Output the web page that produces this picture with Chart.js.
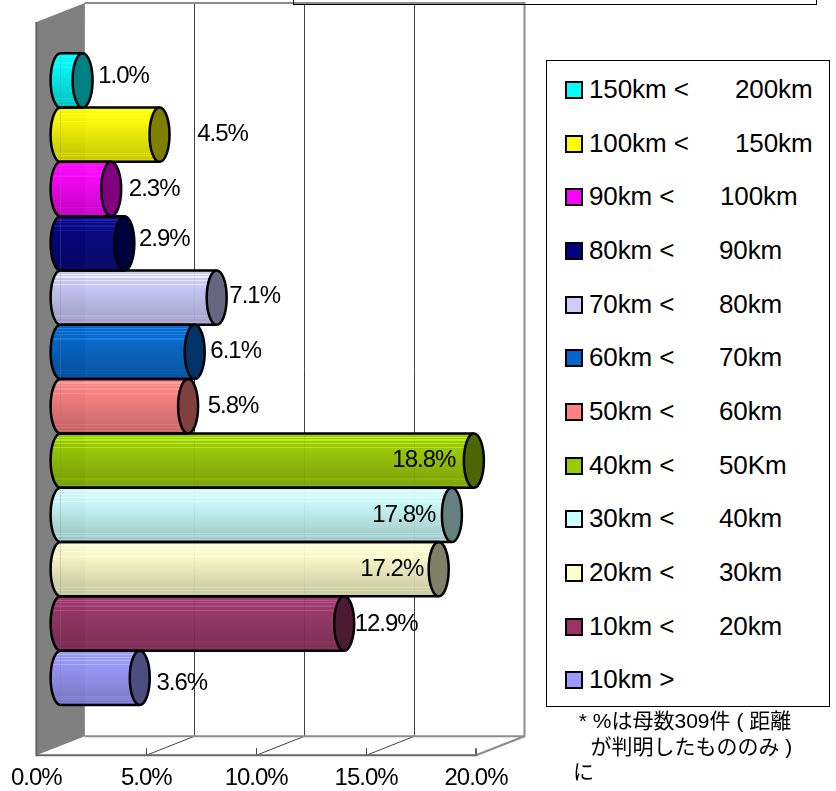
<!DOCTYPE html>
<html>
<head>
<meta charset="utf-8">
<script src="https://cdn.jsdelivr.net/npm/chart.js@4"></script>
<style>
  html, body { margin: 0; padding: 0; background: #fff; }
  #wrap { position: relative; width: 836px; height: 791px; overflow: hidden; font-family: "Liberation Sans", Arial, sans-serif; color: #000; }
  #myChart { position: absolute; left: 0; top: 0; }
  #titleBox { position: absolute; left: 293px; top: -20px; width: 522px; height: 23px; border: 1px solid #000; }
  #legendBox { position: absolute; left: 546px; top: 60px; width: 282px; height: 645px; border: 1px solid #000; background: #fff; }
  .row { position: absolute; left: 18px; height: 30px; font-size: 26px; letter-spacing: -0.1px; line-height: 30px; white-space: nowrap; }
  .swatch { position: absolute; left: 0; top: 7px; width: 14px; height: 14px; border: 2px solid #000; }
  .from { position: absolute; left: 24px; }
  .to { position: absolute; }
  #note { position: absolute; left: 573px; top: 708px; font-family: "Liberation Sans", "Noto Sans CJK JP", sans-serif; font-size: 21px; line-height: 25.5px; white-space: pre; }
</style>
</head>
<body>
<div id="wrap">
  <canvas id="myChart" width="836" height="791"></canvas>
  <div id="titleBox"></div>
  <div id="legendBox"></div>
  <div id="note"></div>
</div>
<script>
// bottom to top, as on the axis
const categories = ["10km >", "10km <", "20km <", "30km <", "40km <", "50km <", "60km <", "70km <", "80km <", "90km <", "100km <", "150km <"];
const upperLabels = ["", "20km", "30km", "40km", "50Km", "60km", "70km", "80km", "90km", "100km", "150km", "200km"];
const shares = [3.6, 12.9, 17.2, 17.8, 18.8, 5.8, 6.1, 7.1, 2.9, 2.3, 4.5, 1.0];
const barColors = ["#9999FF", "#993366", "#FFFFCC", "#CCFFFF", "#99CC00", "#FF8080", "#0066CC", "#CCCCFF", "#000080", "#FF00FF", "#FFFF00", "#00FFFF"];
const tickValues = [0, 5, 10, 15, 20];

// depth of the 3D box, front plane -> back plane
const depthX = 48.5;
const depthY = -19;
const capRadius = 10;

// data label distance from the bar end, Excel placed these by hand
const labelShift = [42, 42, -47, -48, -50, 45, 41, 38, 40, 43, 63, 41];
const labelLift = [8, 3, 2, 2, 2, 2, 1, 1, -2, 2, 2, -2];

// thin light lines in the bar shading (moire in the original)
const stripes = [0.07, 0.12, 0.18, 0.26, 0.84, 0.89, 0.95];

const shade = (hex, f, a = 1) => {
  const n = parseInt(hex.slice(1), 16);
  const c = (v) => Math.min(255, Math.round(v * f + (f > 1 ? 30 * (f - 1) * 10 : 0)));
  return `rgba(${c(n >> 16)},${c((n >> 8) & 255)},${c(n & 255)},${a})`;
};

const factorAt = (t) => (t < 0.3 ? 1 - t * 0.1 : 0.97 - (t - 0.3) * 0.3);

// light at the top, darker to the bottom, slightly see through like the original
const barGradient = (ctx, top, bottom, hex) => {
  const g = ctx.createLinearGradient(0, top, 0, bottom);
  g.addColorStop(0, shade(hex, 1, 0.96));
  stripes.forEach((s) => {
    const f = factorAt(s);
    g.addColorStop(s - 0.012, shade(hex, f, 0.96));
    g.addColorStop(s - 0.011, shade(hex, f * 1.08, 0.96));
    g.addColorStop(s + 0.011, shade(hex, f * 1.08, 0.96));
    g.addColorStop(s + 0.012, shade(hex, f, 0.96));
  });
  g.addColorStop(1, shade(hex, factorAt(1), 0.96));
  return g;
};

const box3d = {
  id: "box3d",
  beforeDraw(chart) {
    // the original text is tall and narrow
    chart.ctx.letterSpacing = "-1px";
  },
  beforeDatasetsDraw(chart) {
    const { ctx, chartArea: a, scales: { x } } = chart;
    ctx.save();
    // side wall
    ctx.fillStyle = "#808080";
    ctx.beginPath();
    ctx.moveTo(a.left, a.top);
    ctx.lineTo(a.left + depthX, a.top + depthY);
    ctx.lineTo(a.left + depthX, a.bottom + depthY);
    ctx.lineTo(a.left, a.bottom);
    ctx.closePath();
    ctx.fill();

    // back plane grid lines
    ctx.strokeStyle = "#404040";
    ctx.lineWidth = 1;
    tickValues.slice(1, -1).forEach((v) => {
      const px = Math.round(x.getPixelForValue(v)) + 0.5;
      const back = Math.round(px + depthX) - 0.5;
      ctx.beginPath();
      ctx.moveTo(back, a.top + depthY);
      ctx.lineTo(back, a.bottom + depthY);
      ctx.lineTo(px, a.bottom);
      ctx.lineTo(px, a.bottom - 7);
      ctx.stroke();
    });

    // grey outline of the box
    ctx.strokeStyle = "#8c8c8c";
    ctx.lineWidth = 2;
    ctx.beginPath();
    ctx.moveTo(a.left + depthX, a.top + depthY);
    ctx.lineTo(a.right + depthX, a.top + depthY);
    ctx.lineTo(a.right + depthX, a.bottom + depthY);
    ctx.lineTo(a.left + depthX, a.bottom + depthY);
    ctx.moveTo(a.right + depthX, a.bottom + depthY);
    ctx.lineTo(a.right, a.bottom);
    ctx.stroke();

    // front floor edge
    ctx.strokeStyle = "#666";
    ctx.beginPath();
    ctx.moveTo(a.left, a.top);
    ctx.lineTo(a.left, a.bottom);
    ctx.lineTo(a.right, a.bottom);
    ctx.lineTo(a.right, a.bottom - 7);
    ctx.stroke();
    ctx.restore();

    // bars stand half way in the box
    ctx.save();
    ctx.translate(depthX / 2, depthY / 2);
  },
  afterDatasetsDraw(chart) {
    const { ctx } = chart;
    const bars = chart.getDatasetMeta(0).data;
    bars.forEach((bar, i) => {
      const top = bar.y - bar.height / 2;
      const bottom = bar.y + bar.height / 2;
      const ry = bar.height / 2;

      ctx.lineWidth = 2.5;
      ctx.strokeStyle = "#000";

      // round rear end
      ctx.fillStyle = barGradient(ctx, top, bottom, barColors[i]);
      ctx.beginPath();
      ctx.ellipse(bar.base, bar.y, capRadius, ry, 0, Math.PI / 2, Math.PI * 1.5);
      ctx.fill();
      ctx.stroke();

      ctx.beginPath();
      ctx.moveTo(bar.base, top);
      ctx.lineTo(bar.x, top);
      ctx.moveTo(bar.base, bottom);
      ctx.lineTo(bar.x, bottom);
      ctx.stroke();

      // front cap
      ctx.fillStyle = shade(barColors[i], 0.5);
      ctx.beginPath();
      ctx.ellipse(bar.x, bar.y, capRadius, ry, 0, 0, Math.PI * 2);
      ctx.fill();
      ctx.stroke();
    });

    ctx.fillStyle = "#000";
    ctx.font = '24px "Liberation Sans"';
    ctx.textAlign = "center";
    ctx.textBaseline = "middle";
    bars.forEach((bar, i) => {
      ctx.fillText(shares[i].toFixed(1) + "%", bar.x + labelShift[i], bar.y - 2 + labelLift[i]);
    });
    ctx.restore();
  }
};

const ctx = document.getElementById("myChart").getContext("2d");
const myChart = new Chart(ctx, {
  type: "bar",
  data: {
    datasets: [{
      data: shares.map((v, i) => ({ x: v, y: i })),
      backgroundColor: (c) => {
        const { chart, dataIndex } = c;
        const y = chart.scales.y.getPixelForValue(dataIndex);
        if (!Number.isFinite(y)) return barColors[dataIndex];
        const half = chart.scales.y.height / 13.5 / 2;
        return barGradient(chart.ctx, y - half, y + half, barColors[dataIndex]);
      },
      borderWidth: 0,
      barPercentage: 1,
      categoryPercentage: 1
    }]
  },
  options: {
    indexAxis: "y",
    responsive: false,
    animation: false,
    devicePixelRatio: 1,
    layout: { padding: { left: 36, top: 22, right: 360, bottom: -11 } },
    plugins: { legend: { display: false }, tooltip: { enabled: false } },
    scales: {
      x: {
        type: "linear",
        min: 0,
        max: 20,
        grid: { display: false, drawTicks: false },
        border: { display: false },
        ticks: {
          stepSize: 5,
          maxRotation: 0,
          padding: 9,
          color: "#000",
          font: { family: "Liberation Sans", size: 24 },
          callback: (v) => v.toFixed(1) + "%"
        }
      },
      y: {
        type: "linear",
        min: -1.25,
        max: 12.25,
        offset: false,
        display: false
      }
    }
  },
  plugins: [box3d]
});

// legend, top row is the last category
const legendBox = document.getElementById("legendBox");
const toLeft = [0, 172, 172, 172, 172, 172, 172, 172, 172, 173, 188, 188];
categories.forEach((cat, i) => {
  const row = document.createElement("div");
  row.className = "row";
  row.style.top = (13 + (categories.length - 1 - i) * 53.65) + "px";
  row.innerHTML = `<span class="swatch" style="background:${barColors[i]}"></span><span class="from">${cat}</span><span class="to" style="left:${toLeft[i] - 18}px">${upperLabels[i]}</span>`;
  legendBox.appendChild(row);
});

document.getElementById("note").textContent = " * %は母数309件 ( 距離\n   が判明したもののみ )\nに";
</script>
</body>
</html>
